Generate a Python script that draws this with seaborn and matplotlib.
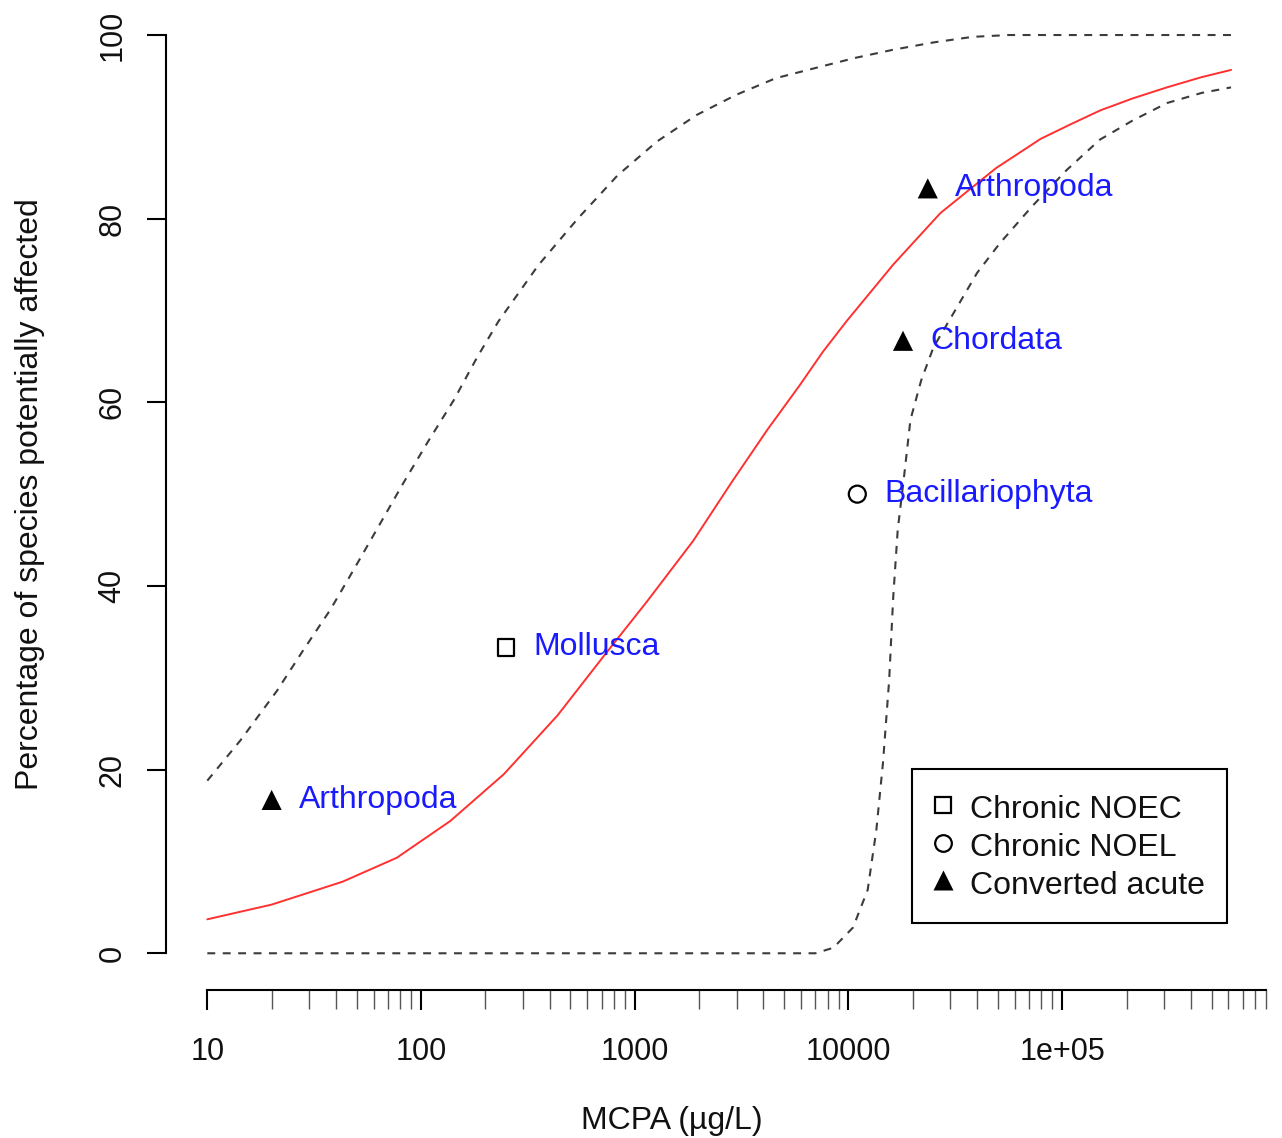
import matplotlib
matplotlib.use("Agg")
import matplotlib.pyplot as plt
from matplotlib.lines import Line2D
import numpy as np
import pandas as pd
import seaborn as sns

# ---------------- data ----------------
species = ["Arthropoda", "Mollusca", "Bacillariophyta", "Chordata", "Arthropoda"]
conc = [20, 250, 11000, 18000, 23500]
pct = [16.7, 33.3, 50.0, 66.7, 83.3]
dtype = ["Converted acute", "Chronic NOEC", "Chronic NOEL", "Converted acute", "Converted acute"]

legend_labels = ["Chronic NOEC", "Chronic NOEL", "Converted acute"]

fit_x = [10, 20, 43, 77, 137, 244, 435, 718, 1140, 1875, 2860, 4170, 5890, 7590,
         9770, 16200, 26900, 49000, 79400, 110000, 151000, 214000, 309000, 447000, 617000]
fit_y = [3.7, 5.3, 7.8, 10.4, 14.4, 19.5, 25.9, 32.4, 38.3, 44.9, 51.4, 57.0, 61.8, 65.5,
         68.8, 75.0, 80.6, 85.5, 88.7, 90.3, 91.8, 93.1, 94.3, 95.4, 96.2]

upper_x = [10, 14.3, 21.2, 28.1, 37.6, 48.2, 64.4, 82.6, 107, 142, 183, 230, 353, 541,
           830, 1270, 1950, 2990, 4570, 6980, 10700, 16200, 25100, 38000, 56200, 617000]
upper_y = [18.8, 23.2, 28.6, 33.0, 37.4, 41.7, 46.8, 51.2, 55.6, 60.2, 64.9, 68.8, 74.9, 80.0,
           84.7, 88.4, 91.3, 93.5, 95.3, 96.4, 97.5, 98.4, 99.2, 99.8, 100.0, 100.0]

lower_x = [10, 7000, 8500, 10500, 12300, 13500, 14500, 15500, 16200, 17000, 18200,
           19500, 21900, 25000, 31000, 40000, 51000, 72000, 105000, 150000, 214000,
           310000, 450000, 617000]
lower_y = [0.0, 0.0, 0.6, 2.8, 6.9, 13.4, 20.7, 29.7, 38.8, 46.1, 51.9,
           58.1, 62.4, 66.0, 69.7, 74.1, 77.3, 81.3, 85.3, 88.6, 90.7,
           92.6, 93.7, 94.3]

x_major = [10, 100, 1000, 10000, 100000]
x_major_labels = ["10", "100", "1000", "10000", "1e+05"]
y_major = [0, 20, 40, 60, 80, 100]

xlabel = "MCPA (µg/L)"
ylabel = "Percentage of species potentially affected"

# ---------------- style ----------------
sns.set_style("ticks")
plt.rcParams["font.family"] = ["Liberation Sans", "DejaVu Sans"]
txt_col = "#111111"

W, H = 1282, 1138
fig = plt.figure(figsize=(W / 100, H / 100), dpi=100)
ax_l, ax_r, ax_b, ax_t = 166.4, 1271.5, 990.0, -1.7
ax = fig.add_axes([ax_l / W, (H - ax_b) / H, (ax_r - ax_l) / W, (ax_b - ax_t) / H])
ax.set_xscale("log")

dash_col = "#3c3c3c"
sns.lineplot(x=upper_x, y=upper_y, ax=ax, color=dash_col, lw=1.5,
             linestyle=(0, (3.8, 3.6)), estimator=None, sort=False)
sns.lineplot(x=lower_x, y=lower_y, ax=ax, color=dash_col, lw=1.5,
             linestyle=(0, (3.8, 3.6)), estimator=None, sort=False)
sns.lineplot(x=fit_x, y=fit_y, ax=ax, color="#ff3030", lw=1.4,
             estimator=None, sort=False)

df = pd.DataFrame({"species": species, "conc": conc, "pct": pct, "type": dtype})
mk = {"Chronic NOEC": "s", "Chronic NOEL": "o", "Converted acute": "^"}
sz = {"Chronic NOEC": 135, "Chronic NOEL": 150, "Converted acute": 210}
for t in legend_labels:
    sub = df[df["type"] == t]
    filled = t == "Converted acute"
    sns.scatterplot(data=sub, x="conc", y="pct", ax=ax, marker=mk[t], s=sz[t],
                    color="black" if filled else "none",
                    edgecolor="black" if not filled else "none",
                    linewidth=1.6, legend=False, zorder=4)

for s, x, y in zip(species, conc, pct):
    ax.annotate(s, (x, y), xytext=(19.5, 0), textcoords="offset points",
                ha="left", va="center", color="#1a1aff", fontsize=23, zorder=5)

# ---------------- axes ----------------
ax.set_xlim(10 ** 0.8085, 10 ** 5.9795)
ax.set_ylim(-4, 104)
for sp in ["top", "right"]:
    ax.spines[sp].set_visible(False)
ax.spines["left"].set_bounds(0, 100)
ax.spines["bottom"].set_bounds(10, 900000)
for sp in ["left", "bottom"]:
    ax.spines[sp].set_linewidth(1.5)
    ax.spines[sp].set_color("black")

minor = [m * 10 ** e for e in range(1, 6) for m in range(2, 10)]
ax.set_xticks(minor, minor=True)
ax.set_xticks(x_major, x_major_labels)
ax.set_yticks(y_major, [str(v) for v in y_major])
ax.tick_params(axis="x", which="major", length=14.5, width=1.5, color="black",
               labelsize=22, pad=19, labelcolor=txt_col)
ax.tick_params(axis="x", which="minor", length=14.0, width=1.0, color="#555555")
ax.tick_params(axis="y", which="major", length=13.5, width=1.5, color="black",
               labelsize=22, pad=14.5, labelrotation=90, labelcolor=txt_col)
for lab in ax.get_yticklabels():
    lab.set_va("center")

ax.set_xlabel(xlabel, fontsize=23, color=txt_col)
ax.set_ylabel(ylabel, fontsize=23, color=txt_col)
ax.xaxis.set_label_coords((672 - ax_l) / (ax_r - ax_l), (ax_b - 1106) / (ax_b - ax_t))
ax.yaxis.set_label_coords((45 - ax_l) / (ax_r - ax_l), 0.5)

handles = [
    Line2D([], [], ls="none", marker="s", ms=11.5, mfc="none", mec="black", mew=1.6),
    Line2D([], [], ls="none", marker="o", ms=12, mfc="none", mec="black", mew=1.6),
    Line2D([], [], ls="none", marker="^", ms=14.5, mfc="black", mec="none"),
]
leg = ax.legend(handles, legend_labels, loc="upper left",
                bbox_to_anchor=((912 - ax_l) / (ax_r - ax_l), (ax_b - 769) / (ax_b - ax_t)),
                borderaxespad=0, fontsize=23, frameon=True, fancybox=False,
                edgecolor="black", framealpha=1, handlelength=0.56, handleheight=1.15,
                handletextpad=0.56, labelspacing=0.13, borderpad=0.7)
leg.get_frame().set_linewidth(1.5)
for t in leg.get_texts():
    t.set_color(txt_col)

fig.savefig("out.png", dpi=100)
